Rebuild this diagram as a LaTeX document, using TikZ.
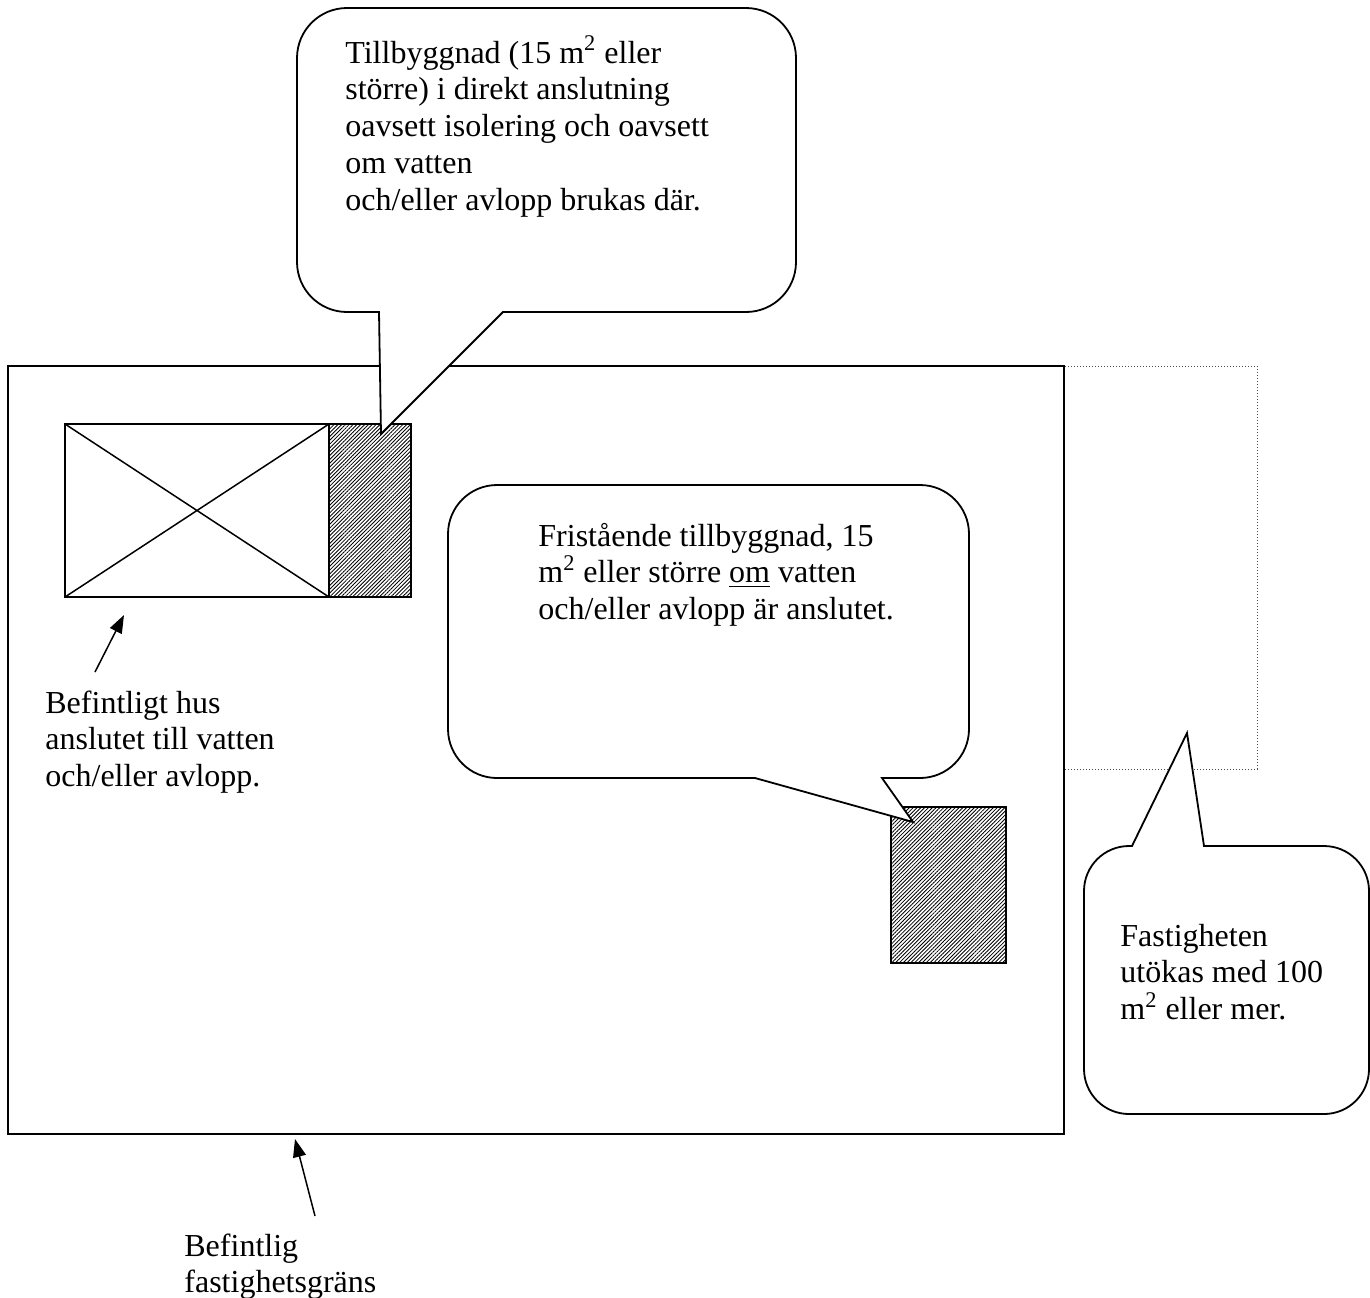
\documentclass[tikz,border=0pt]{standalone}
\usepackage{fontspec}
\setmainfont{Liberation Serif}
\usetikzlibrary{arrows.meta,patterns.meta}
\newcommand{\bubbletext}[1]{\parbox[t]{420pt}{\raggedright\fontsize{16}{18.4}\selectfont #1}}
% L T R B r b1 b2 px py : pointer on the bottom edge
\newcommand{\calloutdown}[9]{%
\draw[bubble] ({#1+#5},#2) -- ({#3-#5},#2)
 .. controls ({#3-0.448*#5},#2) and (#3,{#2+0.448*#5}) .. (#3,{#2+#5})
 -- (#3,{#4-#5})
 .. controls (#3,{#4-0.448*#5}) and ({#3-0.448*#5},#4) .. ({#3-#5},#4)
 -- (#7,#4) -- (#8,#9) -- (#6,#4) -- ({#1+#5},#4)
 .. controls ({#1+0.448*#5},#4) and (#1,{#4-0.448*#5}) .. (#1,{#4-#5})
 -- (#1,{#2+#5})
 .. controls (#1,{#2+0.448*#5}) and ({#1+0.448*#5},#2) .. ({#1+#5},#2) -- cycle;}
% L T R B r b1 b2 px py : pointer on the top edge
\newcommand{\calloutup}[9]{%
\draw[bubble] ({#1+#5},#2) -- (#6,#2) -- (#8,#9) -- (#7,#2) -- ({#3-#5},#2)
 .. controls ({#3-0.448*#5},#2) and (#3,{#2+0.448*#5}) .. (#3,{#2+#5})
 -- (#3,{#4-#5})
 .. controls (#3,{#4-0.448*#5}) and ({#3-0.448*#5},#4) .. ({#3-#5},#4)
 -- ({#1+#5},#4)
 .. controls ({#1+0.448*#5},#4) and (#1,{#4-0.448*#5}) .. (#1,{#4-#5})
 -- (#1,{#2+#5})
 .. controls (#1,{#2+0.448*#5}) and ({#1+0.448*#5},#2) .. ({#1+#5},#2) -- cycle;}
\begin{document}
\begin{tikzpicture}[x=0.5pt,y=-0.5pt,
  outline/.style={draw=black,line width=0.9pt},
  bubble/.style={draw=black,line width=0.9pt,fill=white,line join=miter},
  hatch/.style={draw=black,line width=0.9pt,pattern={Lines[angle=45,distance=1.35pt,line width=0.42pt]}},
  dotline/.style={draw=black!70,line width=0.5pt,dash pattern=on 0.5pt off 1pt},
  pointer/.style={draw=black,line width=0.75pt,-{Triangle[length=9pt,width=6.5pt]}},
  label/.style={anchor=base west,inner sep=0pt}]
\useasboundingbox (0,0) rectangle (1370,1297);
% property boundary
\draw[outline] (8,366) rectangle (1064,1134);
% extension of the property (dotted)
\draw[dotline] (1065,366) -- (1257,366) -- (1257,769) -- (1065,769);
% existing house
\draw[outline] (65,424) rectangle (329,597);
\draw[line width=0.75pt] (65,424) -- (329,597) (65,597) -- (329,424);
% attached extension
\draw[hatch] (329,424) rectangle (411,597);
% detached extension
\draw[hatch] (891,807) rectangle (1006,963);
% callouts
\calloutdown{297}{8}{796}{312}{50}{379}{503}{381}{434}
\calloutdown{448}{485}{969}{778}{49}{755}{882}{913}{822}
\calloutup{1084}{846}{1369}{1114}{45}{1132}{1204}{1187}{733}
% texts
\node[label] (t1) at (345,63) {\bubbletext{Tillbyggnad (15 m\textsuperscript{2} eller\\större) i direkt anslutning\\oavsett isolering och oavsett\\om vatten\\och/eller avlopp brukas där.}};
\node[label] (t2) at (538,546) {\bubbletext{Fristående tillbyggnad, 15\\m\textsuperscript{2} eller större \underline{om} vatten\\och/eller avlopp är anslutet.}};
\node[label] (t3) at (1120,946) {\bubbletext{Fastigheten\\utökas med 100\\m\textsuperscript{2} eller mer.}};
\node[label] (hus) at (45,713) {\bubbletext{Befintligt hus\\anslutet till vatten\\och/eller avlopp.}};
\node[label] (grans) at (184,1256) {\bubbletext{Befintlig\\fastighetsgräns}};
% arrows
\coordinate (husfrom) at (95,672);
\coordinate (hustip) at (124,615);
\coordinate (gransfrom) at (315,1216);
\coordinate (granstip) at (295,1139);
\draw[pointer] (husfrom) -- (hustip);
\draw[pointer] (gransfrom) -- (granstip);
\end{tikzpicture}
\end{document}
